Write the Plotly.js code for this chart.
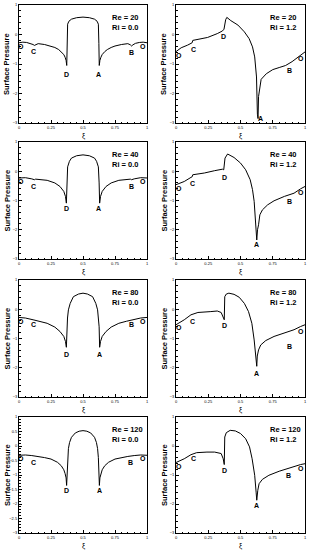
<!DOCTYPE html>
<html>
<head>
<meta charset="utf-8">
<script src="https://cdn.plot.ly/plotly-3.0.1.min.js"></script>
<style>html,body{margin:0;padding:0;background:#fff;}#chart{width:309px;height:550px;}</style>
</head>
<body>
<div id="chart"></div>
<script>
// ---------- DATA ----------
const xTickVals = [0, 0.25, 0.5, 0.75, 1];
const xTickText = ["0", "0.25", "0.5", "0.75", "1"];
const yTickVals = [-3, -2, -1, 0, 1];
const yTickValsFine = [-3, -2.5, -2, -1.5, -1, -0.5, 0, 0.5, 1];
const yAxisTitle = "Surface Pressure";
const xAxisTitle = "ξ";

const reLabels = ["Re = 20", "Re = 20", "Re = 40", "Re = 40", "Re = 80", "Re = 80", "Re = 120", "Re = 120"];
const riLabels = ["Ri = 0.0", "Ri = 1.2", "Ri = 0.0", "Ri = 1.2", "Ri = 0.0", "Ri = 1.2", "Ri = 0.0", "Ri = 1.2"];
const pointNames = ["O", "C", "D", "A", "B", "O"];

// Re = 20, Ri = 0.0
const xi_re20_ri0 = [0,0.03,0.06,0.09,0.11,0.12,0.13,0.15,0.2,0.25,0.28,0.31,0.33,0.35,0.36,0.368,0.373,0.376,0.38,0.39,0.41,0.45,
  0.5,
  0.55,0.59,0.61,0.62,0.624,0.627,0.632,0.64,0.65,0.67,0.69,0.72,0.75,0.8,0.85,0.87,0.88,0.89,0.91,0.94,0.97,1];
const cp_re20_ri0 = [-0.28,-0.26,-0.27,-0.3,-0.34,-0.37,-0.35,-0.31,-0.34,-0.39,-0.44,-0.51,-0.58,-0.68,-0.77,-0.88,-1.05,-0.3,0.35,0.45,0.52,0.57,
  0.59,
  0.57,0.52,0.45,0.35,-0.3,-1.05,-0.88,-0.77,-0.68,-0.58,-0.51,-0.44,-0.39,-0.34,-0.31,-0.35,-0.39,-0.35,-0.3,-0.27,-0.26,-0.28];
const lblx_re20_ri0 = [0.015, 0.115, 0.368, 0.62, 0.875, 0.97];
const lbly_re20_ri0 = [-0.42, -0.59, -1.35, -1.35, -0.61, -0.42];

// Re = 20, Ri = 1.2
const xi_re20_ri12 = [0,0.04,0.09,0.12,0.125,0.13,0.17,0.245,0.32,0.36,0.372,0.376,0.385,0.394,0.425,0.48,0.53,0.567,0.593,0.61,0.624,0.631,0.636,0.64,0.65,0.66,0.7,0.75,0.8,0.85,0.9,0.95,1];
const cp_re20_ri12 = [-0.58,-0.45,-0.36,-0.31,-0.28,-0.2,-0.17,-0.1,0.03,0.12,0.18,0.35,0.5,0.58,0.47,0.32,0.09,-0.14,-0.42,-0.76,-1.44,-2.7,-2.85,-2.1,-1.7,-1.52,-1.33,-1.19,-1.12,-1.05,-0.92,-0.75,-0.59];
const lblx_re20_ri12 = [0.026, 0.137, 0.366, 0.652, 0.876, 0.966];
const lbly_re20_ri12 = [-0.7, -0.51, -0.08, -2.86, -1.22, -0.82];

// Re = 40, Ri = 0.0
const xi_re40_ri0 = [0,0.05,0.1,0.12,0.13,0.16,0.22,0.28,0.32,0.35,0.363,0.37,0.374,0.38,0.394,0.41,0.45,
  0.5,
  0.55,0.59,0.606,0.62,0.626,0.63,0.637,0.65,0.68,0.72,0.78,0.84,0.87,0.88,0.9,0.95,1];
const cp_re40_ri0 = [-0.23,-0.22,-0.26,-0.29,-0.27,-0.28,-0.31,-0.4,-0.52,-0.69,-0.86,-1.09,-0.4,0.15,0.34,0.45,0.53,
  0.56,
  0.53,0.45,0.34,0.15,-0.4,-1.09,-0.86,-0.69,-0.52,-0.4,-0.31,-0.28,-0.27,-0.29,-0.26,-0.22,-0.23];
const lblx_re40_ri0 = [0.012, 0.11, 0.368, 0.62, 0.875, 0.97];
const lbly_re40_ri0 = [-0.35, -0.52, -1.29, -1.29, -0.52, -0.35];

// Re = 40, Ri = 1.2
const xi_re40_ri12 = [0,0.064,0.116,0.125,0.13,0.22,0.3,0.36,0.37,0.376,0.38,0.4,0.45,0.5,0.54,0.575,0.593,0.606,0.616,0.626,0.632,0.64,0.65,0.67,0.71,0.76,0.84,0.915,0.966,1];
const cp_re40_ri12 = [-0.46,-0.35,-0.21,-0.19,-0.12,-0.06,0.02,0.07,0.05,0.3,0.45,0.59,0.47,0.28,0.05,-0.29,-0.63,-1.03,-1.6,-2.35,-2.0,-1.83,-1.49,-1.32,-1.15,-1.01,-0.86,-0.75,-0.6,-0.52];
const lblx_re40_ri12 = [0.026, 0.129, 0.374, 0.626, 0.876, 0.966];
const lbly_re40_ri12 = [-0.58, -0.41, -0.23, -2.52, -1.03, -0.71];

// Re = 80, Ri = 0.0
const xi_re80_ri0 = [0,0.05,0.11,0.16,0.22,0.28,0.32,0.35,0.363,0.37,0.374,0.379,0.386,0.4,0.425,0.465,
  0.5,
  0.535,0.575,0.6,0.614,0.621,0.626,0.63,0.637,0.65,0.68,0.72,0.78,0.84,0.89,0.95,1];
const cp_re80_ri0 = [-0.28,-0.3,-0.36,-0.41,-0.48,-0.61,-0.76,-0.93,-1.1,-1.3,-0.6,-0.3,-0.02,0.2,0.43,0.52,
  0.55,
  0.52,0.43,0.2,-0.02,-0.3,-0.6,-1.3,-1.1,-0.93,-0.76,-0.61,-0.48,-0.41,-0.36,-0.3,-0.28];
const lblx_re80_ri0 = [0.013, 0.11, 0.368, 0.627, 0.875, 0.97];
const lbly_re80_ri0 = [-0.42, -0.53, -1.56, -1.56, -0.53, -0.42];

// Re = 80, Ri = 1.2
const xi_re80_ri12 = [0,0.064,0.116,0.17,0.27,0.32,0.35,0.366,0.374,0.378,0.39,0.41,0.45,0.49,0.53,0.562,0.588,0.606,0.619,0.626,0.63,0.64,0.657,0.696,0.76,0.84,0.915,0.966,1];
const cp_re80_ri12 = [-0.53,-0.36,-0.19,-0.11,-0.08,-0.06,-0.11,-0.25,-0.36,0.43,0.52,0.55,0.51,0.41,0.2,-0.08,-0.48,-1.05,-1.61,-1.95,-1.6,-1.39,-1.22,-1.07,-0.93,-0.82,-0.7,-0.59,-0.53];
const lblx_re80_ri12 = [0.026, 0.13, 0.374, 0.626, 0.876, 0.966];
const lbly_re80_ri12 = [-0.62, -0.42, -0.57, -2.18, -1.27, -0.76];

// Re = 120, Ri = 0.0
const xi_re120_ri0 = [0,0.05,0.1,0.15,0.2,0.25,0.3,0.33,0.35,0.36,0.368,0.372,0.376,0.38,0.386,0.395,0.41,0.44,0.47,
  0.5,
  0.53,0.56,0.59,0.605,0.614,0.62,0.624,0.628,0.632,0.64,0.65,0.67,0.7,0.75,0.8,0.85,0.9,0.95,1];
const cp_re120_ri0 = [-0.32,-0.31,-0.33,-0.36,-0.4,-0.45,-0.56,-0.68,-0.82,-0.95,-1.1,-1.36,-0.9,-0.4,-0.09,0.12,0.3,0.45,0.51,
  0.53,
  0.51,0.45,0.3,0.12,-0.09,-0.4,-0.9,-1.36,-1.1,-0.95,-0.82,-0.68,-0.56,-0.45,-0.4,-0.36,-0.33,-0.31,-0.32];
const lblx_re120_ri0 = [0.013, 0.117, 0.368, 0.627, 0.87, 0.97];
const lbly_re120_ri0 = [-0.44, -0.57, -1.53, -1.53, -0.57, -0.44];

// Re = 120, Ri = 1.2
const xi_re120_ri12 = [0,0.064,0.116,0.16,0.24,0.3,0.35,0.366,0.374,0.378,0.39,0.42,0.46,0.5,0.54,0.57,0.59,0.61,0.621,0.626,0.634,0.644,0.67,0.72,0.8,0.86,0.915,0.966,1];
const cp_re120_ri12 = [-0.57,-0.44,-0.3,-0.23,-0.21,-0.21,-0.26,-0.44,-0.64,0.31,0.46,0.54,0.52,0.43,0.25,-0.03,-0.44,-1.01,-1.59,-1.87,-1.53,-1.3,-1.15,-1.01,-0.87,-0.78,-0.72,-0.64,-0.61];
const lblx_re120_ri12 = [0.026, 0.137, 0.374, 0.626, 0.87, 0.966];
const lbly_re120_ri12 = [-0.72, -0.44, -0.84, -2.05, -1.01, -0.78];

// ---------- BUILD ----------
const W = 309, H = 550;
const colPx = [[19, 147], [176, 305]];
const rowPx = [[5, 123], [142, 259], [280, 397], [417, 533]];
const FONT = "Liberation Sans, Arial, sans-serif";

const series = [
  [xi_re20_ri0, cp_re20_ri0, lblx_re20_ri0, lbly_re20_ri0],
  [xi_re20_ri12, cp_re20_ri12, lblx_re20_ri12, lbly_re20_ri12],
  [xi_re40_ri0, cp_re40_ri0, lblx_re40_ri0, lbly_re40_ri0],
  [xi_re40_ri12, cp_re40_ri12, lblx_re40_ri12, lbly_re40_ri12],
  [xi_re80_ri0, cp_re80_ri0, lblx_re80_ri0, lbly_re80_ri0],
  [xi_re80_ri12, cp_re80_ri12, lblx_re80_ri12, lbly_re80_ri12],
  [xi_re120_ri0, cp_re120_ri0, lblx_re120_ri0, lbly_re120_ri0],
  [xi_re120_ri12, cp_re120_ri12, lblx_re120_ri12, lbly_re120_ri12]
];

const data = [];
const layout = {
  width: W, height: H,
  margin: {l: 0, r: 0, t: 0, b: 0},
  paper_bgcolor: "#fff", plot_bgcolor: "#fff",
  showlegend: false,
  font: {family: FONT, color: "#000"},
  annotations: []
};

series.forEach((s, i) => {
  const row = Math.floor(i / 2), col = i % 2;
  const n = i + 1;
  const xa = n === 1 ? "x" : "x" + n;
  const ya = n === 1 ? "y" : "y" + n;
  const xKey = n === 1 ? "xaxis" : "xaxis" + n;
  const yKey = n === 1 ? "yaxis" : "yaxis" + n;
  const fine = (i === 6);
  data.push({
    x: s[0], y: s[1], xaxis: xa, yaxis: ya,
    type: "scatter", mode: "lines",
    line: {color: "#000", width: 1},
    hoverinfo: "skip"
  });
  layout[xKey] = {
    domain: [colPx[col][0] / W, colPx[col][1] / W],
    anchor: ya, range: [0, 1],
    tickvals: xTickVals, ticktext: xTickText,
    ticks: "inside", ticklen: 3, tickwidth: 1, tickcolor: "#000",
    minor: {dtick: 0.05, ticks: "inside", ticklen: 1.5, tickcolor: "#000", showgrid: false},
    showline: true, linecolor: "#000", linewidth: 1, mirror: true,
    showgrid: false, zeroline: false,
    ticklabelstandoff: 0,
    tickfont: {size: 4, family: FONT, color: "#000"}
  };
  layout[yKey] = {
    domain: [1 - rowPx[row][1] / H, 1 - rowPx[row][0] / H],
    anchor: xa, range: [-3, 1],
    tickvals: fine ? yTickValsFine : yTickVals,
    ticks: "inside", ticklen: 3, tickwidth: 1, tickcolor: "#000",
    minor: {dtick: fine ? 0.1 : 0.2, ticks: "inside", ticklen: 1.5, tickcolor: "#000", showgrid: false},
    showline: true, linecolor: "#000", linewidth: 1, mirror: true,
    showgrid: false, zeroline: false,
    tickfont: {size: 4, family: FONT, color: "#000"}
  };
  // Re / Ri text
  layout.annotations.push({
    xref: xa + " domain", yref: ya + " domain",
    x: 0.71, y: 0.95, xanchor: "left", yanchor: "top", align: "left",
    text: "<b>" + reLabels[i] + "<br>" + riLabels[i] + "</b>",
    showarrow: false, font: {size: 7.5, family: FONT, color: "#000"}
  });
  // point labels
  s[2].forEach((lx, k) => {
    layout.annotations.push({
      xref: xa, yref: ya, x: lx, y: s[3][k],
      text: "<b>" + pointNames[k] + "</b>",
      showarrow: false, xanchor: "center", yanchor: "middle",
      font: {size: 7, family: FONT, color: "#000"}
    });
  });
  // y-axis title
  const yMid = 1 - (rowPx[row][0] + rowPx[row][1]) / 2 / H;
  layout.annotations.push({
    xref: "paper", yref: "paper",
    x: (colPx[col][0] - 12) / W, y: yMid,
    text: "<b>" + yAxisTitle + "</b>", textangle: -90,
    showarrow: false, xanchor: "center", yanchor: "middle",
    font: {size: 7.5, family: FONT, color: "#000"}
  });
  // x-axis title
  layout.annotations.push({
    xref: xa + " domain", yref: "paper",
    x: 0.5, y: 1 - (rowPx[row][1] + 7) / H,
    text: xAxisTitle,
    showarrow: false, xanchor: "center", yanchor: "top",
    font: {size: 7, family: FONT, color: "#000"}
  });
});

Plotly.newPlot("chart", data, layout, {staticPlot: true, displayModeBar: false});
</script>
</body>
</html>
